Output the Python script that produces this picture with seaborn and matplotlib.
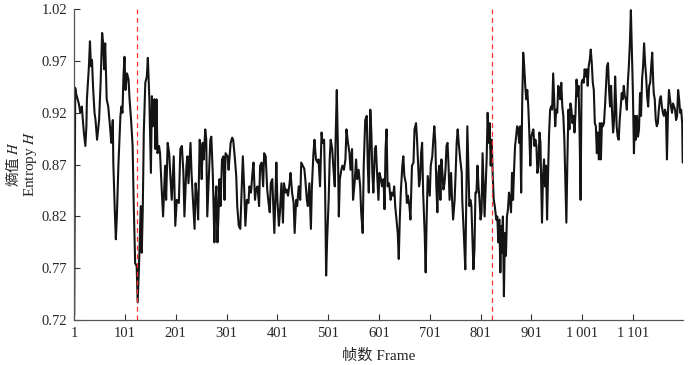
import matplotlib
matplotlib.use("Agg")
import matplotlib.pyplot as plt
import seaborn as sns
import pandas as pd

# Frame numbers and entropy values
frames = [
    1, 3, 5, 10, 13, 16, 20, 23, 25, 26, 30, 32, 34, 36, 38, 41, 43, 46, 50, 53,
    56, 58, 60, 62, 65, 68, 72, 74, 77, 78, 81, 83, 85, 88, 92, 94, 96, 98, 100, 102,
    105, 108, 110, 113, 116, 118, 121, 124, 126, 129, 132, 134, 136, 138, 141, 144, 146, 149, 152, 154,
    156, 159, 161, 163, 165, 168, 170, 173, 176, 180, 182, 185, 188, 190,
    193, 197, 200, 203, 207, 210, 213, 216, 218, 222, 224, 226, 230, 232, 234, 238, 240, 243, 245, 248,
    250, 252, 254, 256, 259, 261, 263, 266, 269, 271, 274, 277, 279, 281, 283, 285, 287, 289, 292, 295,
    297, 299, 303, 305, 309, 312, 314, 317, 320, 322, 325, 328, 330, 333, 336, 338, 341, 344, 346, 349,
    352, 354, 357, 359, 362, 365, 367, 370, 373, 375, 378, 381, 383, 386,
    388, 391, 395, 397, 399, 401, 404, 406, 409, 412, 414, 417, 419, 422, 425, 427, 430, 433, 435, 438,
    440, 443, 446, 448, 451, 454, 456, 459, 461, 464, 467, 469, 472, 474, 477, 480, 482, 485, 488, 490,
    493, 495, 497, 499, 502, 504, 506, 509, 511, 514, 516, 518, 520, 522, 524, 527, 529, 532, 535, 537,
    540, 543, 545, 548, 550, 553, 556, 558, 561, 564, 566, 569, 571, 574, 577, 579, 581, 584,
    586, 588, 590, 593, 595, 597, 600, 602, 605, 607, 610, 612, 614, 616, 618, 621, 624, 626, 629, 631,
    633, 635, 638, 640, 642, 644, 647, 649, 651, 654, 656, 658, 661, 663, 666, 669, 671, 674, 676, 678,
    680, 682, 684, 686, 688, 691, 693, 695, 697, 699, 701, 703, 706, 708, 710, 712, 714, 716, 718, 720,
    722, 724, 726, 728, 730, 732, 734, 736, 738, 740, 743, 745, 747, 750, 752, 754, 756, 758, 761, 764,
    765, 768, 771, 773, 775, 777, 779,
    781, 783, 785, 787, 789, 791, 793, 795, 797, 799, 801, 803, 805, 807, 809, 811, 813, 815, 817, 819,
    821, 823, 825, 827, 829, 832, 834, 836, 838, 840, 842, 843, 845, 847, 849, 851, 853, 855, 857, 859,
    861, 863, 865, 867, 869, 871, 873, 875, 877, 879, 881, 883, 885, 887, 889, 891, 893, 895, 897, 899,
    901, 903, 905, 907, 909, 911, 913, 915, 917, 919, 920, 922, 924, 926, 928, 930, 932, 934, 936, 938,
    940, 942, 944, 946, 948, 950, 952, 954, 956, 958, 960, 962, 964, 966, 968, 970, 972, 974, 976, 978,
    980, 982, 984, 986, 988, 990, 992, 994,
    996, 998, 1000, 1002, 1004, 1006, 1008, 1010, 1012, 1014, 1016, 1018, 1020, 1022, 1024, 1026, 1028, 1030, 1032, 1034,
    1036, 1038, 1040, 1042, 1044, 1046, 1048, 1050, 1052, 1054, 1056, 1058, 1060, 1062, 1064, 1066, 1068, 1069, 1071, 1073,
    1075, 1077, 1079, 1081, 1083, 1085, 1087, 1089, 1091, 1093, 1095, 1097, 1099, 1101, 1103, 1105, 1107, 1109, 1111, 1113,
    1115, 1117, 1119, 1121, 1123, 1125, 1127, 1129, 1131, 1133, 1135, 1137, 1139, 1141, 1142, 1144, 1146, 1148, 1150, 1152,
    1154, 1156, 1158, 1160, 1162, 1164, 1166, 1168, 1170, 1172, 1174, 1176, 1178, 1180, 1182, 1184, 1186, 1188, 1190, 1192,
    1194, 1196, 1198, 1199,
]
entropy = [
    0.725, 0.944, 0.938, 0.929, 0.920, 0.926, 0.901, 0.888, 0.907, 0.933, 0.965, 0.989, 0.965, 0.971, 0.946, 0.920, 0.913, 0.894, 0.913, 0.949,
    0.997, 0.987, 0.962, 0.987, 0.933, 0.926, 0.904, 0.891, 0.913, 0.872, 0.824, 0.798, 0.820, 0.869, 0.917, 0.926, 0.920, 0.955, 0.974, 0.942,
    0.958, 0.952, 0.933, 0.913, 0.888, 0.836, 0.775, 0.772, 0.737, 0.779, 0.830, 0.785, 0.827, 0.901, 0.949, 0.955, 0.973, 0.933, 0.862, 0.936,
    0.907, 0.933, 0.885, 0.933, 0.881, 0.888, 0.881, 0.849, 0.820, 0.869, 0.836, 0.891, 0.881, 0.862,
    0.836, 0.878, 0.811, 0.836, 0.833, 0.885, 0.888, 0.862, 0.820, 0.869, 0.878, 0.852, 0.891, 0.862, 0.843, 0.808, 0.852, 0.836, 0.817, 0.894,
    0.885, 0.856, 0.891, 0.875, 0.904, 0.894, 0.820, 0.856, 0.894, 0.897, 0.859, 0.795, 0.836, 0.849, 0.795, 0.820, 0.856, 0.830, 0.875, 0.878,
    0.836, 0.881, 0.878, 0.865, 0.891, 0.896, 0.894, 0.878, 0.859, 0.830, 0.811, 0.808, 0.836, 0.878, 0.843, 0.811, 0.836, 0.833, 0.849, 0.843,
    0.862, 0.872, 0.836, 0.846, 0.849, 0.830, 0.869, 0.872, 0.849, 0.881, 0.878, 0.846, 0.836, 0.824,
    0.852, 0.856, 0.804, 0.836, 0.872, 0.836, 0.811, 0.824, 0.852, 0.814, 0.852, 0.843, 0.846, 0.840, 0.852, 0.862, 0.843, 0.833, 0.804, 0.836,
    0.830, 0.849, 0.836, 0.872, 0.869, 0.866, 0.856, 0.836, 0.830, 0.852, 0.808, 0.849, 0.881, 0.894, 0.875, 0.872, 0.875, 0.849, 0.901, 0.891,
    0.894, 0.846, 0.763, 0.798, 0.836, 0.875, 0.894, 0.885, 0.869, 0.849, 0.901, 0.942, 0.891, 0.820, 0.856, 0.865, 0.869, 0.865, 0.875, 0.904,
    0.891, 0.881, 0.865, 0.885, 0.836, 0.852, 0.875, 0.856, 0.865, 0.849, 0.824, 0.804, 0.869, 0.913, 0.917, 0.869, 0.843, 0.923,
    0.901, 0.862, 0.843, 0.885, 0.888, 0.865, 0.836, 0.862, 0.856, 0.849, 0.856, 0.827, 0.885, 0.904, 0.849, 0.852, 0.836, 0.843, 0.840, 0.849,
    0.830, 0.820, 0.804, 0.779, 0.817, 0.843, 0.869, 0.878, 0.859, 0.852, 0.833, 0.840, 0.830, 0.817, 0.869, 0.872, 0.904, 0.910, 0.894, 0.872,
    0.849, 0.856, 0.881, 0.891, 0.843, 0.804, 0.766, 0.820, 0.859, 0.849, 0.840, 0.869, 0.878, 0.894, 0.907, 0.891, 0.849, 0.824, 0.862, 0.869,
    0.836, 0.875, 0.862, 0.846, 0.852, 0.865, 0.888, 0.891, 0.869, 0.836, 0.862, 0.836, 0.817, 0.836, 0.862, 0.891, 0.904, 0.891, 0.875, 0.862,
    0.836, 0.804, 0.769, 0.836, 0.907, 0.869, 0.830,
    0.836, 0.830, 0.798, 0.769, 0.788, 0.843, 0.843, 0.869, 0.849, 0.836, 0.817, 0.824, 0.881, 0.849, 0.820, 0.849, 0.875, 0.920, 0.891, 0.910,
    0.869, 0.894, 0.859, 0.836, 0.830, 0.817, 0.820, 0.795, 0.817, 0.766, 0.811, 0.785, 0.820, 0.743, 0.804, 0.782, 0.820, 0.827, 0.843, 0.836,
    0.824, 0.862, 0.836, 0.865, 0.888, 0.897, 0.907, 0.905, 0.891, 0.907, 0.843, 0.929, 0.978, 0.965, 0.946, 0.933, 0.942, 0.926, 0.901, 0.869,
    0.897, 0.901, 0.904, 0.888, 0.894, 0.888, 0.862, 0.869, 0.901, 0.891, 0.862, 0.814, 0.859, 0.875, 0.849, 0.869, 0.817, 0.862, 0.901, 0.923,
    0.926, 0.923, 0.958, 0.933, 0.907, 0.923, 0.920, 0.946, 0.942, 0.933, 0.949, 0.926, 0.917, 0.894, 0.856, 0.814, 0.875, 0.923, 0.904, 0.929,
    0.923, 0.910, 0.917, 0.901, 0.920, 0.952, 0.936, 0.946,
    0.901, 0.836, 0.949, 0.952, 0.949, 0.962, 0.955, 0.962, 0.946, 0.965, 0.971, 0.981, 0.968, 0.949, 0.942, 0.910, 0.907, 0.881, 0.901, 0.875,
    0.910, 0.875, 0.910, 0.907, 0.910, 0.926, 0.946, 0.965, 0.968, 0.942, 0.926, 0.946, 0.920, 0.901, 0.913, 0.955, 0.926, 0.907, 0.897, 0.894,
    0.913, 0.926, 0.939, 0.933, 0.946, 0.936, 0.933, 0.923, 0.949, 0.965, 0.987, 1.019, 0.981, 0.939, 0.881, 0.917, 0.894, 0.917, 0.897, 0.904,
    0.939, 0.917, 0.952, 0.965, 0.987, 0.968, 0.955, 0.936, 0.926, 0.946, 0.949, 0.965, 0.978, 0.949, 0.939, 0.933, 0.913, 0.907, 0.910, 0.923,
    0.933, 0.936, 0.926, 0.920, 0.917, 0.923, 0.920, 0.875, 0.920, 0.942, 0.933, 0.926, 0.920, 0.929, 0.926, 0.923, 0.913, 0.917, 0.942, 0.933,
    0.920, 0.923, 0.910, 0.872,
]
# Frames marked by the red dashed lines
cut_frames = [125, 823]

xtick_pos = [1, 101, 201, 301, 401, 501, 601, 701, 801, 901, 1001, 1101]
xtick_labels = ["1", "101", "201", "301", "401", "501", "601", "701", "801", "901",
                "1\u2009001", "1\u2009101"]
ytick_pos = [0.72, 0.77, 0.82, 0.87, 0.92, 0.97, 1.02]

df = pd.DataFrame({"Frame": frames, "Entropy": entropy})

sns.set_style("ticks")
plt.rcParams["font.family"] = ["Liberation Serif", "Noto Sans CJK SC"]
plt.rcParams["mathtext.fontset"] = "stix"
plt.rcParams["xtick.direction"] = "in"
plt.rcParams["ytick.direction"] = "in"

fig = plt.figure(figsize=(7, 3.65), dpi=100)
ax = fig.add_axes([0.106, 0.123, 0.870, 0.852])

sns.lineplot(data=df, x="Frame", y="Entropy", ax=ax, color="#141414",
             linewidth=1.5, estimator=None, sort=False)

for f in cut_frames:
    ax.axvline(f, color="#ff3030", linestyle=(0, (4, 3)), linewidth=0.9)

ax.set_xlim(1, 1200)
ax.set_ylim(0.72, 1.02)
ax.set_xticks(xtick_pos)
ax.set_xticklabels(xtick_labels)
ax.set_yticks(ytick_pos)
ax.set_yticklabels([f"{v:.2f}" for v in ytick_pos])
ax.tick_params(axis="both", labelsize=10.5, length=4, width=0.8, color="#333333", pad=5)

sns.despine(ax=ax)
for side in ["left", "bottom"]:
    ax.spines[side].set_color("#555555")
    ax.spines[side].set_linewidth(0.9)

ax.set_xlabel("帧数 Frame", fontsize=11, labelpad=6)
ax.set_ylabel("")  # seaborn's automatic label replaced by the two-line text below

# two-line y label: Chinese line uses the CJK font, English line the serif font
fig.text(0.017, 0.551, "熵值 $H$", rotation=90, ha="center", va="center",
         fontsize=10.5, family="Noto Sans CJK SC")
fig.text(0.043, 0.551, "Entropy $H$", rotation=90, ha="center", va="center",
         fontsize=11)

plt.savefig("out.png", dpi=100)
plt.close()
